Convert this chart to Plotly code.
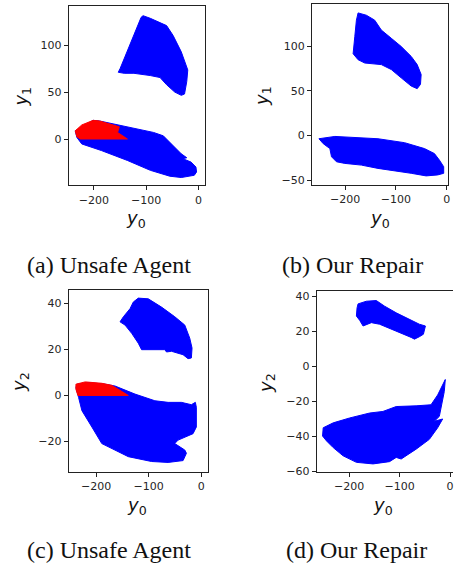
import plotly.graph_objects as go

W, H = 455, 573

# ---------------- data (y0 on x-axis, y1 / y2 on y-axis) ----------------
# (a) Unsafe Agent : y0 vs y1
A_UP_Y0 = [-106, -92.2, -61, -48.6, -33, -23.7, -20.6, -22.5, -26.8, -33, -45.5, -61, -73.6,
           -92.2, -123.4, -142, -153.3, -149.6, -139, -126.5, -114, -109.7]
A_UP_Y1 = [131.6, 128.8, 121, 110.5, 93, 79, 73.7, 61.4, 48, 46.6, 50.1, 57.9, 65.6,
           67.7, 70.1, 70.1, 71.2, 75.4, 89.5, 107, 122.8, 129.8]
A_LO_Y0 = [-235.5, -201.3, -188.8, -154.6, -123.4, -86, -67.3, -48.6, -33, -22.5, -30, -14.4,
           -5, -3.8, -8.1, -33, -54.9, -92.2, -135.9, -185.7, -223, -232.4]
A_LO_Y1 = [8.7, 19.9, 19.2, 15, 11.5, 7, 3.4, -7.1, -15.8, -20, -21, -24.6,
           -29.9, -35.2, -38.7, -41.1, -39.7, -33.4, -22.9, -12.3, -5.3, 1.7]
A_RED_Y0 = [-235.5, -223, -201.3, -188.8, -151.4, -154.6, -135.9, -226, -232.4]
A_RED_Y1 = [8.7, 15, 19.9, 19.2, 13, 7, 0, 0, 2.4]

# (b) Our Repair : y0 vs y1
B_UP_Y0 = [-174.6, -158.3, -141.9, -128.8, -109.2, -89.7, -70, -58.2, -50.4, -51.7, -58.2, -70,
           -89.7, -109.2, -128.8, -161.5, -174.6, -184.4, -181.1, -177.9]
B_UP_Y1 = [137.3, 134.7, 129.2, 118.1, 108.9, 99.7, 88.6, 79.4, 68.3, 57.3, 52.5, 55.4,
           64.6, 73.9, 79.4, 81.2, 84.9, 91.6, 110.7, 129.2]
B_LO_Y0 = [-251.7, -220.3, -135.4, -83.1, -43.9, -24.3, -14.5, -6, -6, -17.7, -40.6, -70,
           -135.4, -168.1, -200.7, -217.1, -226.9, -230.2, -243.2]
B_LO_Y1 = [-3.6, -1, -3.6, -8, -14.6, -20.2, -27.5, -34.9, -42.3, -44.1, -45.2, -42.3,
           -36.8, -33.1, -31.2, -29.4, -23.8, -14.6, -9.1]

# (c) Unsafe Agent : y0 vs y2
C_UP_Y0 = [-119.8, -100.8, -75.5, -50.2, -31.2, -21.7, -17.3, -18.6, -24.9, -34.4, -56.5, -66,
           -69.2, -94.5, -113.5, -119.8, -132.4, -145.1, -154.6, -148.2, -135.6, -129.3]
C_UP_Y2 = [42.3, 42, 38.4, 34.2, 30.6, 24.9, 20.6, 16.3, 16, 17.7, 19.2, 18.9,
           19.9, 19.9, 19.9, 22.7, 27, 30.6, 32, 34.2, 37.7, 40.6]
C_LO_Y0 = [-236.8, -214.7, -183.1, -164.1, -126.1, -88.2, -62.9, -37.6, -18.6, -11, -9.1, -9.1,
           -15.4, -43.9, -50.2, -31.2, -28, -34.4, -62.9, -94.5, -138.8, -189.4, -208.3,
           -227.3, -233.6, -238.7]
C_LO_Y2 = [4.9, 5.6, 4.9, 4.1, 0.6, -2.3, -3, -3, -4, -3, -5.1, -13.7,
           -16.6, -19.4, -20.9, -23.7, -25.1, -28.3, -29.1, -28.7, -26.6, -20.9, -13.7,
           -6.6, -0.9, 3.4]
C_RED_Y0 = [-238.7, -221, -189.4, -170.4, -138.8, -234.9, -238.7]
C_RED_Y2 = [4.9, 5.9, 5.3, 4.4, 0, 0, 2.7]

# (d) Our Repair : y0 vs y2
D_UP_Y0 = [-182.3, -165.9, -146.2, -129.7, -106.7, -80.4, -60.7, -48.8, -52.8, -60.7, -70.5,
           -77.1, -106.7, -139.6, -155.9, -165.9, -172.4, -179, -185.6, -184.3]
D_UP_Y2 = [35.6, 37.1, 37.5, 34.3, 30.5, 26.8, 24, 23, 18.3, 16.9, 15.5,
           16.5, 20.2, 24, 24.9, 24, 23, 26.2, 28.7, 33.3]
D_LO_Y0 = [-251.4, -231.6, -198.8, -159.3, -133, -106.7, -67.2, -37.7, -24.5, -14.6, -9.4,
           -11.4, -16, -21.2, -31.1, -14.6, -24.5, -41, -67.2, -87, -96.8, -106.7, -119.9,
           -152.7, -185.6, -211.9, -231.6, -244.8, -252.7]
D_LO_Y2 = [-35, -32.2, -29.4, -26.6, -25.7, -22.9, -22.5, -21.9, -16.3, -10.7, -7.5,
           -14.4, -21.9, -28.5, -31.3, -30, -35, -41.6, -47.2, -51, -52.8, -51.9, -54.3,
           -55.6, -54.7, -51, -46.3, -42.5, -39.7]

X_TICKS = [-200, -100, 0]
X_TICK_TEXT = ["\u2212200", "\u2212100", "0"]
A_Y_TICKS = [0, 50, 100]
B_Y_TICKS = [-50, 0, 50, 100]
C_Y_TICKS = [-20, 0, 20, 40]
D_Y_TICKS = [-60, -40, -20, 0, 20, 40]

CAPTIONS = ["(a) Unsafe Agent", "(b) Our Repair", "(c) Unsafe Agent", "(d) Our Repair"]
Y_LABELS = ["<i>y</i><sub>1</sub>", "<i>y</i><sub>1</sub>", "<i>y</i><sub>2</sub>", "<i>y</i><sub>2</sub>"]
X_LABEL = "<i>y</i><sub>0</sub>"

BLUE = "#0000ff"
RED = "#ff0000"


def tt(vals):
    return [("\u2212" + str(-v)) if v < 0 else str(v) for v in vals]


# ---------------- layout geometry (pixels) ----------------
panels = [
    dict(x0=69, x1=206, yt=5, yb=187, xr=[-248, 12.5], yr=[-49.5, 142], yticks=A_Y_TICKS, my=True),
    dict(x0=313.3, x1=450, yt=3.3, yb=186.7, xr=[-265.5, 2.5], yr=[-55.5, 147], yticks=B_Y_TICKS, my=True),
    dict(x0=69, x1=208.7, yt=292.7, yb=477.3, xr=[-252.5, 12.7], yr=[-33.1, 46], yticks=C_Y_TICKS, my=True),
    dict(x0=318, x1=455, yt=294, yb=477.3, xr=[-264.5, 5.9], yr=[-60, 43], yticks=D_Y_TICKS, my=False),
]

shapes_data = [
    [(A_UP_Y0, A_UP_Y1, BLUE), (A_LO_Y0, A_LO_Y1, BLUE), (A_RED_Y0, A_RED_Y1, RED)],
    [(B_UP_Y0, B_UP_Y1, BLUE), (B_LO_Y0, B_LO_Y1, BLUE)],
    [(C_UP_Y0, C_UP_Y2, BLUE), (C_LO_Y0, C_LO_Y2, BLUE), (C_RED_Y0, C_RED_Y2, RED)],
    [(D_UP_Y0, D_UP_Y2, BLUE), (D_LO_Y0, D_LO_Y2, BLUE)],
]

fig = go.Figure()
layout = {}
annotations = []

xlab_pos = [(137, 221), (382, 221), (138, 512), (385, 512)]
ylab_pos = [(22, 97), (263.5, 96), (19.5, 386), (267.5, 387)]
cap_pos = [(109.5, 268), (354, 268), (109.5, 557), (357.6, 557)]

TICK_FONT = dict(family="DejaVu Sans", size=11, color="#262626")

for i, p in enumerate(panels):
    k = "" if i == 0 else str(i + 1)
    for (xs, ys, col) in shapes_data[i]:
        fig.add_trace(go.Scatter(
            x=xs + [xs[0]], y=ys + [ys[0]], mode="lines", fill="toself",
            fillcolor=col, line=dict(color=col, width=1),
            xaxis="x" + k, yaxis="y" + k, hoverinfo="skip", showlegend=False))
    layout["xaxis" + k] = dict(
        domain=[p["x0"] / W, p["x1"] / W], anchor="y" + k, range=p["xr"],
        tickvals=X_TICKS, ticktext=X_TICK_TEXT, ticks="outside", ticklen=4,
        tickwidth=1, tickcolor="#222", showline=True, linecolor="#222", linewidth=1,
        mirror=True, showgrid=False, zeroline=False, tickfont=TICK_FONT, fixedrange=True)
    layout["yaxis" + k] = dict(
        domain=[1 - p["yb"] / H, 1 - p["yt"] / H], anchor="x" + k, range=p["yr"],
        tickvals=p["yticks"], ticktext=tt(p["yticks"]), ticks="outside", ticklen=4,
        tickwidth=1, tickcolor="#222", showline=True, linecolor="#222", linewidth=1,
        mirror=p["my"], showgrid=False, zeroline=False, tickfont=TICK_FONT, fixedrange=True)
    annotations.append(dict(
        text=X_LABEL, x=xlab_pos[i][0] / W, y=1 - xlab_pos[i][1] / H, xref="paper", yref="paper",
        showarrow=False, xanchor="center", yanchor="middle",
        font=dict(family="DejaVu Sans", size=18, color="#111")))
    annotations.append(dict(
        text=Y_LABELS[i], x=ylab_pos[i][0] / W, y=1 - ylab_pos[i][1] / H, xref="paper", yref="paper",
        showarrow=False, xanchor="center", yanchor="middle", textangle=-90,
        font=dict(family="DejaVu Sans", size=18, color="#111")))
    annotations.append(dict(
        text=CAPTIONS[i], x=cap_pos[i][0] / W, y=1 - cap_pos[i][1] / H, xref="paper", yref="paper",
        showarrow=False, xanchor="center", yanchor="middle",
        font=dict(family="Liberation Serif", size=24, color="#111")))

fig.update_layout(
    width=W, height=H, margin=dict(l=0, r=0, t=0, b=0),
    paper_bgcolor="white", plot_bgcolor="white",
    annotations=annotations, **layout)

fig.write_html("out.html", config={"displayModeBar": False},
               post_script="document.body.style.margin='0';document.body.style.overflow='hidden';")
